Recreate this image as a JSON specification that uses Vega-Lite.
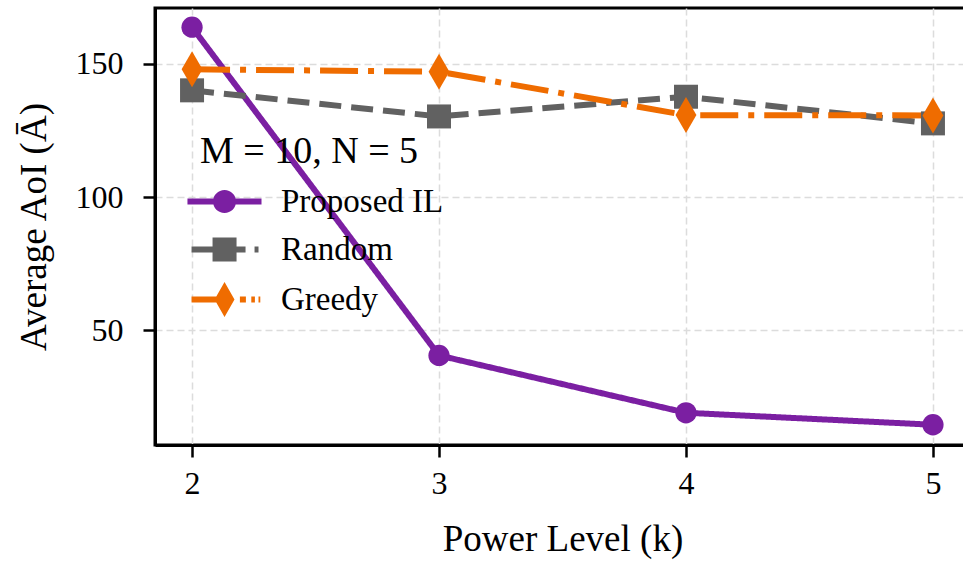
{
  "$schema": "https://vega.github.io/schema/vega-lite/v6.json",
  "autosize": "none",
  "width": 815,
  "height": 437,
  "padding": {"left": 155, "top": 8, "right": 0, "bottom": 118},
  "background": "white",
  "config": {
    "font": "Liberation Serif",
    "view": {"stroke": "black", "strokeWidth": 3},
    "axis": {
      "labelFont": "Liberation Serif",
      "titleFont": "Liberation Serif",
      "labelFontSize": 32,
      "titleFontSize": 37,
      "titleFontWeight": "normal",
      "labelColor": "black",
      "titleColor": "black",
      "domainColor": "black",
      "domainWidth": 3,
      "tickColor": "black",
      "tickWidth": 2.5,
      "tickSize": 12,
      "gridColor": "#dcdcdc",
      "gridDash": [7, 4],
      "gridWidth": 1.5
    },
    "legend": {
      "labelFont": "Liberation Serif",
      "titleFont": "Liberation Serif"
    }
  },
  "data": {
    "values": [
      {"k": 2, "aoi": 163.8, "series": "Proposed IL"},
      {"k": 3, "aoi": 40.6, "series": "Proposed IL"},
      {"k": 4, "aoi": 19.1, "series": "Proposed IL"},
      {"k": 5, "aoi": 14.6, "series": "Proposed IL"},
      {"k": 2, "aoi": 140.1, "series": "Random"},
      {"k": 3, "aoi": 130.3, "series": "Random"},
      {"k": 4, "aoi": 137.7, "series": "Random"},
      {"k": 5, "aoi": 127.7, "series": "Random"},
      {"k": 2, "aoi": 148.0, "series": "Greedy"},
      {"k": 3, "aoi": 147.1, "series": "Greedy"},
      {"k": 4, "aoi": 130.8, "series": "Greedy"},
      {"k": 5, "aoi": 130.7, "series": "Greedy"}
    ]
  },
  "encoding": {
    "x": {
      "field": "k",
      "type": "quantitative",
      "scale": {"domain": [1.85, 5.15], "nice": false, "zero": false},
      "axis": {
        "values": [2, 3, 4, 5],
        "title": "Power Level (k)",
        "labelPadding": 11,
        "titlePadding": 22,
        "labelFlush": false
      }
    },
    "y": {
      "field": "aoi",
      "type": "quantitative",
      "scale": {"domain": [7, 171], "nice": false, "zero": false},
      "axis": {
        "values": [50, 100, 150],
        "title": "Average AoI (Ā)",
        "labelPadding": 20,
        "titlePadding": 22,
        "labelFlush": false
      }
    },
    "color": {
      "field": "series",
      "type": "nominal",
      "scale": {
        "domain": ["Proposed IL", "Random", "Greedy"],
        "range": ["#7B1FA2", "#616161", "#EF6C00"]
      },
      "legend": {
        "title": "M = 10,  N = 5",
        "orient": "none",
        "legendX": 45,
        "legendY": 125,
        "titleFontSize": 38,
        "titleFontWeight": "normal",
        "titleFontStyle": "normal",
        "titleColor": "black",
        "titlePadding": 14,
        "titleLimit": 0,
        "labelLimit": 0,
        "labelFontSize": 33,
        "labelColor": "black",
        "labelOffset": 48,
        "symbolSize": 576,
        "rowPadding": 14,
        "symbolStrokeWidth": 0,
        "encode": {
          "symbols": {
            "update": {
              "shape": {
                "signal": "datum.value === 'Proposed IL' ? 'M-2.42,-0.25H3.75V0.25H-2.42Z M1.63,0A0.96,0.96 0 1,1 -0.29,0A0.96,0.96 0 1,1 1.63,0Z' : datum.value === 'Random' ? 'M-2.08,-0.25H2.42V0.25H-2.08Z M3.17,-0.25H3.5V0.25H3.17Z M-0.33,-1H1.67V1H-0.33Z' : 'M-2.08,-0.25H1.3V0.25H-2.08Z M1.95,-0.25H2.45V0.25H1.95Z M2.9,-0.25H3.2V0.25H2.9Z M3.5,-0.25H3.65V0.25H3.5Z M0.67,-1.46L1.5,0L0.67,1.46L-0.16,0Z'"
              },
              "size": {"value": 576},
              "fill": {"signal": "scale('color', datum.value)"},
              "stroke": {"value": "transparent"},
              "strokeWidth": {"value": 0},
              "opacity": {"value": 1},
              "fillOpacity": {"value": 1}
            }
          }
        }
      }
    }
  },
  "layer": [
    {
      "mark": {"type": "line", "strokeWidth": 6},
      "encoding": {
        "strokeDash": {
          "field": "series",
          "type": "nominal",
          "scale": {
            "domain": ["Proposed IL", "Random", "Greedy"],
            "range": [[1, 0], [22, 10], [38, 10, 6, 10]]
          },
          "legend": null
        }
      }
    },
    {
      "transform": [{"filter": "datum.series === 'Proposed IL'"}],
      "mark": {"type": "point", "filled": true, "opacity": 1, "shape": "circle", "size": 452}
    },
    {
      "transform": [{"filter": "datum.series === 'Random'"}],
      "mark": {"type": "point", "filled": true, "opacity": 1, "shape": "square", "size": 576}
    },
    {
      "transform": [{"filter": "datum.series === 'Greedy'"}],
      "mark": {"type": "point", "filled": true, "opacity": 1, "shape": "M0,-1L0.58,0L0,1L-0.58,0Z", "size": 1296}
    }
  ]
}
